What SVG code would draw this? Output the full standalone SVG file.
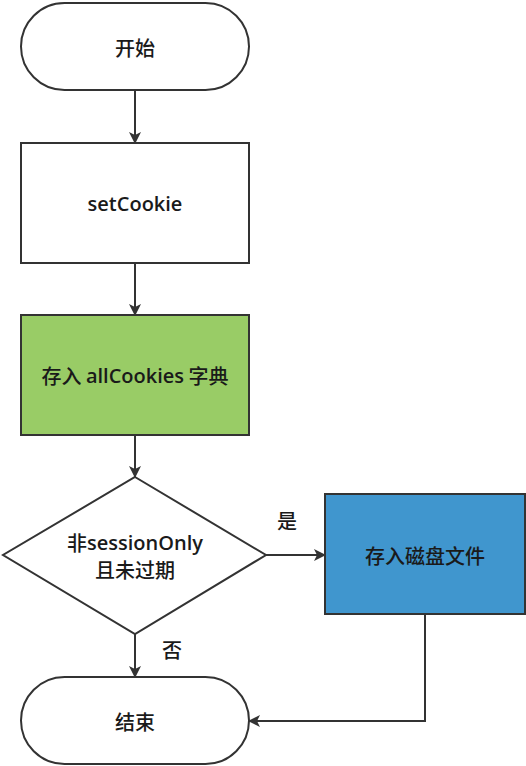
<svg xmlns="http://www.w3.org/2000/svg" width="526" height="766" viewBox="0 0 526 766">
<style>
.n{stroke:#333;stroke-width:2}
.t{font-family:"Noto Sans CJK SC","Open Sans",sans-serif;font-size:20px;font-weight:500;fill:#1a1a1a;text-anchor:middle;dominant-baseline:central}
.l{font-family:"Open Sans","Noto Sans CJK SC",sans-serif;font-weight:600}
.c{fill:none;stroke:#333;stroke-width:2}
</style>
<defs>
<marker id="a" viewBox="0 0 12 12" refX="11" refY="6" markerWidth="12" markerHeight="12" markerUnits="userSpaceOnUse" orient="auto">
<path d="M0,0 L12,6 L0,12 L3,6 Z" fill="#333"/>
</marker>
</defs>
<rect width="526" height="766" fill="#fff"/>
<g id="connectors">
<path class="c" d="M135,90 V143" marker-end="url(#a)"/>
<path class="c" d="M135,263 V315" marker-end="url(#a)"/>
<path class="c" d="M135,435 V477" marker-end="url(#a)"/>
<path class="c" d="M266,555 H325" marker-end="url(#a)"/>
<path class="c" d="M135,634 V677" marker-end="url(#a)"/>
<path class="c" d="M425,614 V721 H249" marker-end="url(#a)"/>
<text class="t" x="287" y="520">是</text>
<text class="t" x="172" y="649">否</text>
</g>
<g id="start">
<rect class="n" x="21" y="3" width="228" height="87" rx="43.5" fill="#fff"/>
<text class="t" x="135" y="47">开始</text>
</g>
<g id="setCookie">
<rect class="n" x="21" y="143" width="228" height="120" fill="#fff"/>
<text class="t l" x="135" y="203">setCookie</text>
</g>
<g id="store">
<rect class="n" x="21" y="315" width="228" height="120" fill="#99cc66"/>
<text class="t" x="135" y="375">存入 <tspan class="l">allCookies</tspan> 字典</text>
</g>
<g id="decision">
<polygon class="n" points="135,477 266,555 135,634 3,555" fill="#fff"/>
<text class="t" x="135" y="542">非<tspan class="l">sessionOnly</tspan></text>
<text class="t" x="135" y="569">且未过期</text>
</g>
<g id="disk">
<rect class="n" x="325" y="494" width="200" height="120" fill="#4096ce"/>
<text class="t" x="425" y="555">存入磁盘文件</text>
</g>
<g id="end">
<rect class="n" x="21" y="677" width="228" height="87" rx="43.5" fill="#fff"/>
<text class="t" x="135" y="721">结束</text>
</g>
</svg>
